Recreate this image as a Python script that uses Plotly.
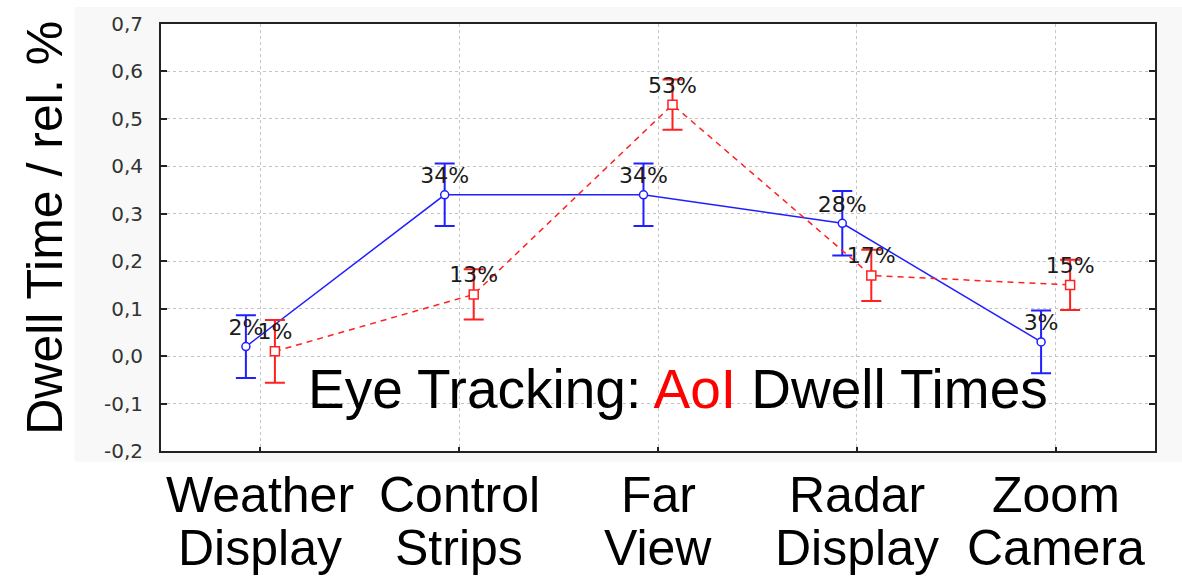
import numpy as np
import plotly.graph_objects as go

# Areas of interest and mean relative dwell times (fraction of total)
categories = ["Weather Display", "Control Strips", "Far View", "Radar Display", "Zoom Camera"]
series_a = [0.02, 0.34, 0.34, 0.28, 0.03]          # blue, solid
series_a_err = [0.066, 0.066, 0.066, 0.068, 0.066]
series_b = [0.01, 0.13, 0.53, 0.17, 0.15]          # red, dashed
series_b_err = [0.066, 0.053, 0.053, 0.054, 0.053]

y_ticks = [-0.2, -0.1, 0.0, 0.1, 0.2, 0.3, 0.4, 0.5, 0.6, 0.7]
y_tick_labels = ["-0,2", "-0,1", "0,0", "0,1", "0,2", "0,3", "0,4", "0,5", "0,6", "0,7"]

BLUE = "#1f1fff"
RED = "#ff2020"
SANS = "Liberation Sans, Arial, sans-serif"
WIDE = "DejaVu Sans, Verdana, sans-serif"

idx = np.arange(len(categories))
shift = 0.073  # horizontal offset of the two series around each category


def pct(values):
    return [f"{round(v * 100)}%" for v in values]


fig = go.Figure()

fig.add_trace(go.Scatter(
    x=idx - shift, y=series_a,
    mode="lines+markers+text",
    line=dict(color=BLUE, width=1.5),
    marker=dict(symbol="circle", size=8, color="white", line=dict(color=BLUE, width=1.5)),
    error_y=dict(type="data", array=series_a_err, color=BLUE, thickness=2, width=10),
    text=pct(series_a), textposition="top center",
    textfont=dict(family=WIDE, size=22, color="#1a1a1a"),
    cliponaxis=False,
))

fig.add_trace(go.Scatter(
    x=idx + shift, y=series_b,
    mode="lines+markers+text",
    line=dict(color=RED, width=1.5, dash="6px,5px"),
    marker=dict(symbol="square", size=9, color="white", line=dict(color=RED, width=1.5)),
    error_y=dict(type="data", array=series_b_err, color=RED, thickness=2, width=10),
    text=pct(series_b), textposition="top center",
    textfont=dict(family=WIDE, size=22, color="#1a1a1a"),
    cliponaxis=False,
))

# two-line category labels under the axis
annotations = []
for i, name in enumerate(categories):
    first, second = name.split(" ", 1)
    annotations.append(dict(x=i, y=-0.103, xref="x", yref="paper", text=first,
                            showarrow=False, xanchor="center", yanchor="middle",
                            font=dict(family=SANS, size=50, color="black")))
    annotations.append(dict(x=i, y=-0.227, xref="x", yref="paper", text=second,
                            showarrow=False, xanchor="center", yanchor="middle",
                            font=dict(family=SANS, size=50, color="black")))

annotations.append(dict(
    x=0.52, y=0.145, xref="paper", yref="paper",
    text="Eye Tracking: <span style='color:#ff0000'>AoI</span> Dwell Times",
    showarrow=False, xanchor="center", yanchor="middle",
    font=dict(family=SANS, size=55, color="black"),
))
annotations.append(dict(
    x=-0.117, y=0.522, xref="paper", yref="paper",
    text="Dwell Time / rel. %", textangle=-90,
    showarrow=False, xanchor="center", yanchor="middle",
    font=dict(family=SANS, size=50, color="black"),
))

fig.update_layout(
    width=1182, height=580,
    margin=dict(l=161, r=27, t=16, b=129),
    paper_bgcolor="white", plot_bgcolor="white",
    showlegend=False,
    annotations=annotations,
    shapes=[
        dict(type="rect", xref="paper", yref="paper", x0=-0.087, x1=1.03, y0=-0.025, y1=1.04,
             fillcolor="#f8f8f8", line=dict(width=0), layer="below"),
        dict(type="rect", xref="paper", yref="paper", x0=0, x1=1, y0=0, y1=1,
             fillcolor="white", line=dict(width=0), layer="below"),
    ],
)

fig.update_xaxes(
    range=[-0.5, len(categories) - 0.5],
    tickvals=list(idx), showticklabels=False,
    ticks="inside", ticklen=4, tickwidth=1.5, tickcolor="#222",
    showgrid=True, gridcolor="#c4c4c4", griddash="dot", gridwidth=1,
    showline=True, linecolor="#222", linewidth=2, mirror=True,
    zeroline=False,
)
fig.update_yaxes(
    range=[-0.2, 0.7],
    tickvals=y_ticks, ticktext=y_tick_labels,
    tickfont=dict(family=WIDE, size=20, color="#333"),
    ticks="inside", ticklen=6, tickwidth=1.5, tickcolor="#222",
    ticklabelstandoff=12,
    showgrid=True, gridcolor="#c4c4c4", griddash="dot", gridwidth=1,
    showline=True, linecolor="#222", linewidth=2, mirror="ticks",
    zeroline=False,
)

fig.write_html("out.html")
